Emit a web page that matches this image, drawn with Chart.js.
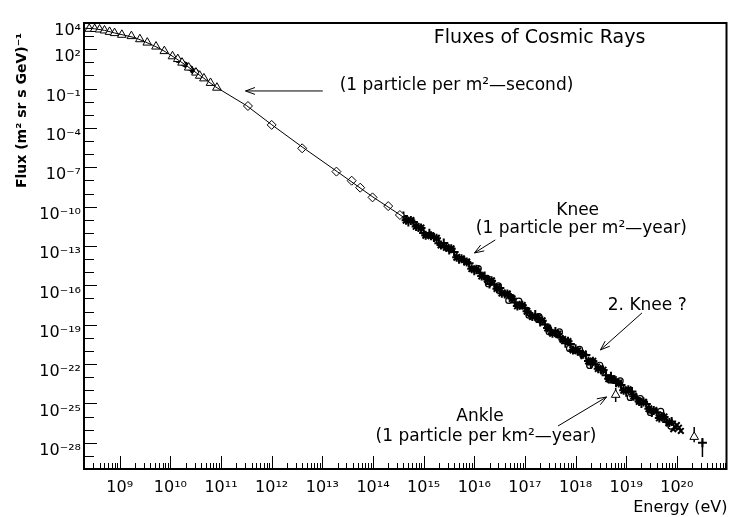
<!DOCTYPE html>
<html>
<head>
<meta charset="utf-8">
<script src="https://cdn.jsdelivr.net/npm/chart.js@4.4.0/dist/chart.umd.min.js"></script>
<style>
  html, body { margin: 0; padding: 0; background: #fff; }
</style>
</head>
<body>
<canvas id="graphCanvas" width="734" height="517"></canvas>
<script>
// tick positions (decades) that carry a label
var xTicks = [1e9, 1e10, 1e11, 1e12, 1e13, 1e14, 1e15, 1e16, 1e17, 1e18, 1e19, 1e20];
var yTicks = [1e4, 1e2, 1e-1, 1e-4, 1e-7, 1e-10, 1e-13, 1e-16, 1e-19, 1e-22, 1e-25, 1e-28];

// fitted spectrum (solid line)
var fitE = [2e8, 3.2e8, 5e8, 7.9e8, 1.26e9, 2e9, 3.2e9, 5e9, 7.9e9, 1.26e10, 2e10, 3.2e10, 5e10, 7.9e10,
    3.2e11, 1e12, 4e12, 2e13, 1e14, 3.2e14, 1e15, 3.2e15, 1e16, 3.2e16, 1e17, 3.2e17, 1e18, 3.2e18,
    1e19, 3.2e19, 1e20];
var fitF = [3.98e3, 3.63e3, 2.75e3, 1.74e3, 1.15e3, 7.6e2, 3.63e2, 1.66e2, 66, 20.9, 6.2, 1.66, 0.48, 0.132,
    5.0e-3, 1.78e-4, 3.55e-6, 4.47e-8, 5.37e-10, 2.82e-11, 1.41e-12, 5.62e-14, 1.66e-15, 5.01e-17, 1.51e-18,
    4.47e-20, 1.32e-21, 3.55e-23, 1e-24, 3.16e-26, 1.41e-27];

// low energy (triangles)
var triE = [2.5e8, 3.2e8, 4e8, 5e8, 6.3e8, 7.9e8, 1.1e9, 1.7e9, 2.5e9, 3.5e9, 5.2e9, 7.6e9, 1.1e10, 1.4e10,
    1.7e10, 2.3e10, 3.2e10, 3.8e10, 4.6e10, 6.2e10, 8.3e10];
var triF = [3.6e3, 3.5e3, 3.2e3, 2.7e3, 2.1e3, 1.7e3, 1.26e3, 1.0e3, 5.8e2, 3.2e2, 1.6e2, 72, 29, 17.8,
    9.5, 4.0, 1.66, 0.95, 0.6, 0.27, 0.117];

// low energy (small filled points)
var lowE = [1.4e10, 1.6e10, 1.8e10, 2e10, 2.2e10, 2.5e10, 2.8e10, 3.2e10];
var lowF = [15, 12, 8, 6.5, 4.2, 3.5, 2.2, 1.9];

// direct measurements (diamonds)
var diaE = [3.4e11, 1.0e12, 4.0e12, 1.9e13, 3.8e13, 5.6e13, 9.8e13, 2.0e14, 3.4e14];
var diaF = [4.7e-3, 1.7e-4, 2.8e-6, 4.7e-8, 9.5e-9, 2.8e-9, 5.1e-10, 1.1e-10, 2.3e-11];

// air shower data (crosses)
var aE = [4e14, 5e14, 6.3e14, 7.9e14, 1e15, 1.3e15, 1.6e15, 2e15, 2.5e15, 3.2e15, 4e15, 5e15, 6.3e15, 7.9e15,
    1e16, 1.3e16, 1.6e16, 2e16, 2.5e16, 3.2e16, 4e16, 5e16, 6.3e16, 7.9e16,
    1e17, 1.3e17, 1.6e17, 2e17, 2.5e17, 3.2e17, 4e17, 5e17, 6.3e17, 7.9e17,
    1e18, 1.3e18, 1.6e18, 2e18, 2.5e18, 3.2e18, 4e18, 5e18, 6.3e18, 7.9e18,
    1e19, 1.3e19, 1.6e19, 2e19, 2.5e19, 3.2e19, 4e19, 5e19, 6.3e19, 7.9e19];
var aF = [1.95e-11, 6.76e-12, 6.61e-12, 2.57e-12, 1.0e-12, 9.33e-13, 4.37e-13, 1.62e-13, 1.70e-13, 5.01e-14,
    3.47e-14, 9.77e-15, 7.59e-15, 4.79e-15, 1.32e-15, 8.32e-16, 5.13e-16, 1.29e-16, 1.12e-16, 6.31e-17,
    2.24e-17, 1.74e-17, 4.90e-18, 3.02e-18, 1.91e-18, 5.25e-19, 5.89e-19, 1.62e-19, 1.02e-19, 3.55e-20,
    3.09e-20, 1.10e-20, 3.80e-21, 3.39e-21, 1.48e-21, 5.13e-22, 4.90e-22, 9.55e-23, 9.12e-23, 3.55e-23,
    1.38e-23, 1.20e-23, 3.72e-24, 2.57e-24, 7.08e-25, 7.94e-25, 2.51e-25, 1.0e-25, 8.91e-26, 2.0e-26,
    2.14e-26, 1.02e-26, 3.89e-27, 4.17e-27];

// air shower data (stars)
var bE = [4.5e14, 5.6e14, 7.1e14, 8.9e14, 1.1e15, 1.4e15, 1.8e15, 2.2e15, 2.8e15, 3.5e15, 4.5e15, 5.6e15, 7.1e15, 8.9e15,
    1.1e16, 1.4e16, 1.8e16, 2.2e16, 2.8e16, 3.5e16, 4.5e16, 5.6e16, 7.1e16, 8.9e16,
    1.1e17, 1.4e17, 1.8e17, 2.2e17, 2.8e17, 3.5e17, 4.5e17, 5.6e17, 7.1e17, 8.9e17,
    1.1e18, 1.4e18, 1.8e18, 2.2e18, 2.8e18, 3.5e18, 4.5e18, 5.6e18, 7.1e18, 8.9e18,
    1.1e19, 1.4e19, 1.8e19, 2.2e19, 2.8e19, 3.5e19, 4.5e19, 5.6e19, 7.1e19];
var bF = [9.12e-12, 8.91e-12, 3.09e-12, 2.40e-12, 6.46e-13, 6.03e-13, 3.98e-13, 1.17e-13, 7.76e-14, 6.17e-14,
    1.38e-14, 1.07e-14, 6.03e-15, 1.86e-15, 1.66e-15, 5.13e-16, 2.88e-16, 2.24e-16, 5.62e-17, 2.51e-17,
    2.19e-17, 9.77e-18, 2.69e-18, 3.02e-18, 1.05e-18, 4.17e-19, 3.24e-19, 2.04e-19, 5.62e-20, 2.19e-20,
    1.95e-20, 7.59e-21, 5.37e-21, 1.17e-21, 1.02e-21, 5.62e-22, 1.70e-22, 1.66e-22, 4.47e-23, 3.47e-23,
    7.59e-24, 6.61e-24, 3.63e-24, 1.0e-24, 1.12e-24, 3.55e-25, 1.41e-25, 1.26e-25, 3.98e-26, 2.88e-26,
    7.76e-27, 9.33e-27, 3.55e-27];

// air shower data (open circles)
var cE = [1.2e16, 1.9e16, 3e16, 4.8e16, 7.6e16, 1.2e17, 1.9e17, 3e17, 4.8e17, 7.6e17,
    1.2e18, 1.9e18, 3e18, 4.8e18, 7.6e18, 1.2e19, 1.9e19, 3e19, 4.8e19, 7.6e19];
var cF = [1.91e-15, 1.32e-16, 9.12e-17, 7.08e-18, 6.17e-18, 5.37e-19, 4.17e-19, 2.88e-20, 2.82e-20, 1.55e-21,
    1.32e-21, 7.76e-23, 8.13e-23, 6.17e-24, 5.25e-24, 2.88e-25, 2.29e-25, 2.04e-26, 2.51e-26, 1.86e-27];

// highest energies
var dE = [6.8e19, 8e19, 9e19, 1e20, 1.1e20, 1.2e20, 8.5e19];
var dF = [3.2e-27, 2.0e-27, 1.6e-27, 2.2e-27, 1.4e-27, 8e-28, 1.1e-27];
var uheTriE = [6.2e18, 2.2e20];
var uheTriF = [4.5e-25, 2.8e-28];
var uheCrossE = [3.2e20];
var uheCrossF = [1.0e-28];
var errE = [6.2e18, 2.2e20, 3.2e20];
var errLo = [1.3e-25, 1.1e-28, 8.3e-30];
var errHi = [1.5e-24, 1.6e-27, 2.3e-28];

// annotations, anchored in data units
var notes = [
    { text: 'Fluxes of Cosmic Rays', E: 1.95e17, F: 7.2e2, size: 19, align: 'center' },
    { text: '(1 particle per m\u00b2\u2014second)', E: 2.2e13, F: 0.158, size: 17, align: 'left' },
    { text: 'Knee', E: 1.1e18, F: 4.7e-11, size: 17, align: 'center' },
    { text: '(1 particle per m\u00b2\u2014year)', E: 1.3e18, F: 2.0e-12, size: 17, align: 'center' },
    { text: '2. Knee ?', E: 2.6e19, F: 2.7e-18, size: 17, align: 'center' },
    { text: 'Ankle', E: 1.3e16, F: 9.3e-27, size: 17, align: 'center' },
    { text: '(1 particle per km\u00b2\u2014year)', E: 1.7e16, F: 2.8e-28, size: 17, align: 'center' }
];
var arrows = [
    { from: [1.02e13, 0.066], to: [3.05e11, 0.066] },
    { from: [2.6e16, 2.9e-13], to: [1.01e16, 2.95e-14] },
    { from: [2.05e19, 7.9e-19], to: [3.1e18, 1.2e-21] },
    { from: [4.5e17, 1.9e-27], to: [4.1e18, 3.1e-25] }
];

var FONT = "'DejaVu Sans', sans-serif";
var sup = { '0': '\u2070', '1': '\u00b9', '2': '\u00b2', '3': '\u00b3', '4': '\u2074', '5': '\u2075',
    '6': '\u2076', '7': '\u2077', '8': '\u2078', '9': '\u2079', '-': '\u207b' };

function powLabel(v) {
    var e = Math.round(Math.log10(v));
    return '10' + String(e).split('').map(function (c) { return sup[c]; }).join('');
}

function pairs(E, F) {
    return E.map(function (e, i) { return { x: e, y: F[i] }; });
}

function errPoints(E, lo, hi) {
    var pts = [];
    for (var i = 0; i < E.length; i++) {
        pts.push({ x: E[i], y: lo[i] }, { x: E[i], y: hi[i] }, { x: E[i], y: null });
    }
    return pts;
}

// box + inward tick marks
var frameTicks = {
    id: 'frameTicks',
    afterDraw: function (chart) {
        var ctx = chart.ctx, a = chart.chartArea, x = chart.scales.x, y = chart.scales.y;
        ctx.save();
        ctx.strokeStyle = '#000';
        ctx.lineWidth = 2;
        ctx.strokeRect(a.left, a.top, a.right - a.left - 1, a.bottom - a.top);
        ctx.lineWidth = 1;
        ctx.beginPath();
        for (var d = 8; d <= 20; d++) {
            for (var m = 1; m <= 9; m++) {
                var v = m * Math.pow(10, d);
                if (v < x.min || v > x.max) continue;
                var px = Math.round(x.getPixelForValue(v)) + 0.5;
                var len = m === 1 ? 13 : 6;
                ctx.moveTo(px, a.bottom);
                ctx.lineTo(px, a.bottom - len);
            }
        }
        for (var k = -30; k <= 4; k++) {
            var py = Math.round(y.getPixelForValue(Math.pow(10, k))) + 0.5;
            var l = ((k - 2) % 3 === 0) ? 13 : 10;
            ctx.moveTo(a.left, py);
            ctx.lineTo(a.left + l, py);
        }
        ctx.stroke();
        ctx.restore();
    }
};

var notesPlugin = {
    id: 'notes',
    afterDatasetsDraw: function (chart) {
        var ctx = chart.ctx, x = chart.scales.x, y = chart.scales.y;
        ctx.save();
        ctx.fillStyle = '#000';
        ctx.textBaseline = 'middle';
        notes.forEach(function (n) {
            ctx.font = n.size + 'px ' + FONT;
            ctx.textAlign = n.align;
            ctx.fillText(n.text, x.getPixelForValue(n.E), y.getPixelForValue(n.F));
        });
        ctx.strokeStyle = '#000';
        ctx.lineWidth = 1;
        arrows.forEach(function (ar) {
            var x1 = x.getPixelForValue(ar.from[0]), y1 = y.getPixelForValue(ar.from[1]);
            var x2 = x.getPixelForValue(ar.to[0]), y2 = y.getPixelForValue(ar.to[1]);
            var ang = Math.atan2(y2 - y1, x2 - x1);
            ctx.beginPath();
            ctx.moveTo(x1, y1);
            ctx.lineTo(x2, y2);
            ctx.moveTo(x2 - 10 * Math.cos(ang - 0.35), y2 - 10 * Math.sin(ang - 0.35));
            ctx.lineTo(x2, y2);
            ctx.lineTo(x2 - 10 * Math.cos(ang + 0.35), y2 - 10 * Math.sin(ang + 0.35));
            ctx.stroke();
        });
        ctx.restore();
    }
};

Chart.defaults.font.family = FONT;
Chart.defaults.color = '#000';

var graphTarget = document.getElementById('graphCanvas');

var fluxChart = new Chart(graphTarget, {
    type: 'scatter',
    data: {
        datasets: [
            { label: 'fit', data: pairs(fitE, fitF), showLine: true, pointRadius: 0,
              borderColor: '#000', borderWidth: 1, tension: 0 },
            { label: 'triangles', data: pairs(triE, triF), pointStyle: 'triangle', pointRadius: 5,
              borderColor: '#000', backgroundColor: '#fff', borderWidth: 1 },
            { label: 'low', data: pairs(lowE, lowF), pointStyle: 'circle', pointRadius: 2.5,
              borderColor: '#000', backgroundColor: '#000', borderWidth: 1 },
            { label: 'diamonds', data: pairs(diaE, diaF), pointStyle: 'rectRot', pointRadius: 4.5,
              borderColor: '#000', backgroundColor: '#fff', borderWidth: 1 },
            { label: 'crosses', data: pairs(aE, aF), pointStyle: 'cross', pointRadius: 4.5,
              borderColor: '#000', borderWidth: 2 },
            { label: 'stars', data: pairs(bE, bF), pointStyle: 'star', pointRadius: 4.5,
              borderColor: '#000', borderWidth: 2 },
            { label: 'circles', data: pairs(cE, cF), pointStyle: 'circle', pointRadius: 3,
              borderColor: '#000', backgroundColor: '#fff', borderWidth: 1.2 },
            { label: 'uhe', data: pairs(dE, dF), pointStyle: 'crossRot', pointRadius: 4,
              borderColor: '#000', borderWidth: 2 },
            { label: 'uheTri', data: pairs(uheTriE, uheTriF), pointStyle: 'triangle', pointRadius: 5,
              borderColor: '#000', backgroundColor: '#fff', borderWidth: 1 },
            { label: 'uheCross', data: pairs(uheCrossE, uheCrossF), pointStyle: 'cross', pointRadius: 4.5,
              borderColor: '#000', borderWidth: 2 },
            { label: 'errors', data: errPoints(errE, errLo, errHi), showLine: true, spanGaps: false,
              pointRadius: 0, borderColor: '#000', borderWidth: 1.5 }
        ]
    },
    options: {
        responsive: false,
        animation: false,
        layout: { padding: { left: 0, right: 2, top: 23, bottom: 0 } },
        plugins: { legend: { display: false }, tooltip: { enabled: false } },
        scales: {
            x: {
                type: 'logarithmic',
                min: 1.97e8,
                max: 1e21,
                grid: { display: false, drawTicks: false },
                border: { display: false },
                afterBuildTicks: function (scale) {
                    scale.ticks = xTicks.map(function (v) { return { value: v }; });
                },
                afterFit: function (scale) { scale.height = 48; },
                ticks: {
                    autoSkip: false, maxRotation: 0, padding: 9,
                    font: { size: 16 },
                    callback: function (v) { return powLabel(v); }
                },
                title: {
                    display: true, text: 'Energy (eV)', align: 'end',
                    font: { size: 16 }, padding: { top: 0, bottom: 0 }
                }
            },
            y: {
                type: 'logarithmic',
                min: 1e-30,
                max: 1e4,
                grid: { display: false, drawTicks: false },
                border: { display: false },
                afterBuildTicks: function (scale) {
                    scale.ticks = yTicks.map(function (v) { return { value: v }; });
                },
                afterFit: function (scale) { scale.width = 84; },
                ticks: {
                    autoSkip: false, padding: 3, labelOffset: 8,
                    font: { size: 16 },
                    callback: function (v) { return powLabel(v); }
                },
                title: {
                    display: true, text: 'Flux (m\u00b2 sr s GeV)\u207b\u00b9  ', align: 'end',
                    font: { size: 14, weight: 'bold' }, padding: { top: 14, bottom: 0 }
                }
            }
        }
    },
    plugins: [frameTicks, notesPlugin]
});
</script>
</body>
</html>
